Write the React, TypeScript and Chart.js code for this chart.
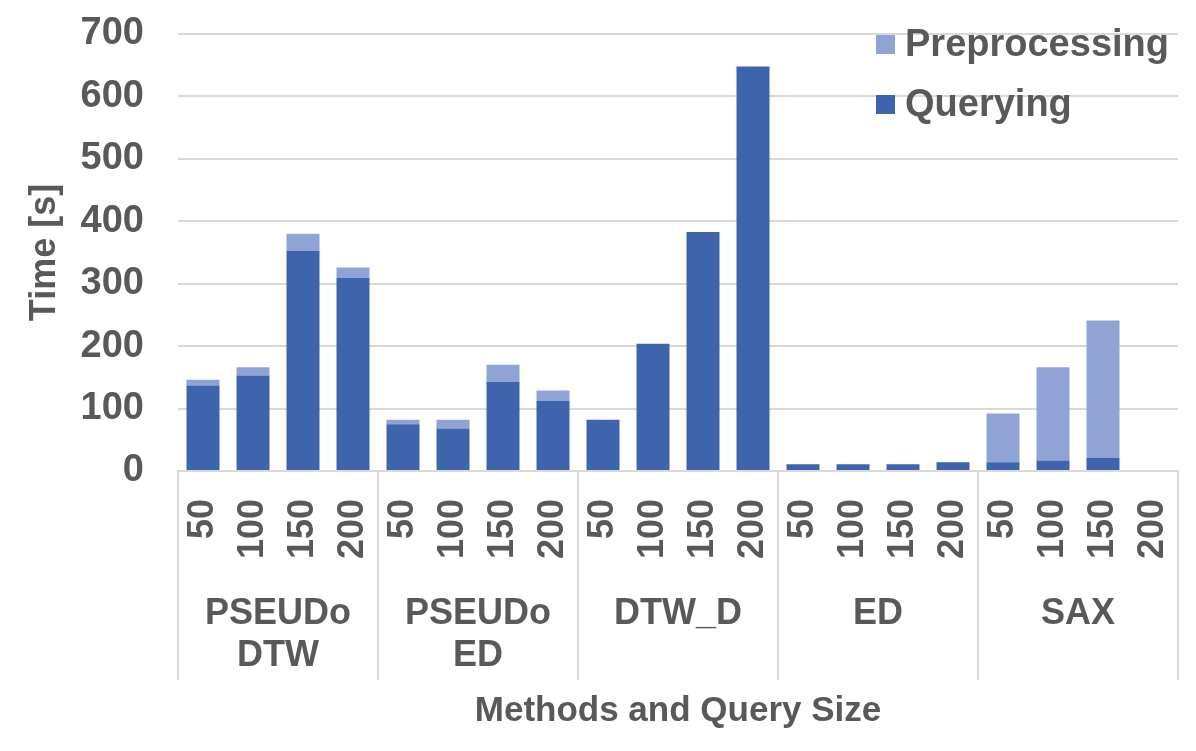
import { useEffect, useRef } from 'react';
import { Chart, registerables } from 'chart.js';

Chart.register(...registerables);

// query sizes repeated for each method group
const sizes = ['50', '100', '150', '200'];
const groups = [['PSEUDo', 'DTW'], ['PSEUDo', 'ED'], ['DTW_D'], ['ED'], ['SAX']];
const labels = groups.flatMap(() => sizes);

const querying = [137, 153, 353, 309, 75, 68, 143, 112, 82, 204, 383, 648, 11, 11, 11, 14, 14, 17, 21, 0];
const preprocessing = [9, 13, 27, 17, 7, 14, 27, 17, 0, 0, 0, 0, 0, 0, 0, 0, 78, 149, 220, 0];

const DARK = '#3d64ad';
const LIGHT = '#8fa4d4';
const TEXT = '#595959';
const GRID = '#d9d9d9';
const FONT = '"Liberation Sans", Arial, sans-serif';

const groupPlugin = {
  id: 'groupLabels',
  afterDraw(chart: any) {
    const { ctx, chartArea, scales } = chart;
    const x = scales.x;
    const base = chartArea.bottom;
    ctx.save();

    // separators between method groups
    ctx.strokeStyle = GRID;
    ctx.lineWidth = 2;
    for (let g = 0; g <= groups.length; g++) {
      const px = Math.round(x.getPixelForValue(g * sizes.length - 0.5));
      ctx.beginPath();
      ctx.moveTo(px, base);
      ctx.lineTo(px, base + 209);
      ctx.stroke();
    }

    // method names
    ctx.fillStyle = TEXT;
    ctx.font = `bold 36px ${FONT}`;
    ctx.textAlign = 'center';
    ctx.textBaseline = 'middle';
    groups.forEach((lines, g) => {
      const cx = x.getPixelForValue(g * sizes.length + (sizes.length - 1) / 2);
      lines.forEach((t, i) => ctx.fillText(t, cx, base + 143 + i * 42));
    });

    // legend (stack order reversed like the original)
    const items = [
      { text: 'Preprocessing', color: LIGHT },
      { text: 'Querying', color: DARK },
    ];
    ctx.font = `bold 38px ${FONT}`;
    ctx.textAlign = 'left';
    items.forEach((it, i) => {
      const cy = chartArea.top + 11 + i * 60;
      ctx.fillStyle = it.color;
      ctx.fillRect(chartArea.right - 302, cy - 10, 19, 19);
      ctx.fillStyle = TEXT;
      ctx.fillText(it.text, chartArea.right - 273, cy + 1);
    });
    ctx.restore();
  },
};

export default function App() {
  const chartRef = useRef<HTMLCanvasElement>(null);
  const chartInstance = useRef<Chart | null>(null);

  useEffect(() => {
    if (!chartRef.current) return;
    if (chartInstance.current) chartInstance.current.destroy();

    chartInstance.current = new Chart(chartRef.current, {
      type: 'bar',
      data: {
        labels,
        datasets: [
          {
            label: 'Querying',
            data: querying,
            backgroundColor: DARK,
            barPercentage: 0.66,
            categoryPercentage: 1,
          },
          {
            label: 'Preprocessing',
            data: preprocessing,
            backgroundColor: LIGHT,
            barPercentage: 0.66,
            categoryPercentage: 1,
          },
        ],
      },
      options: {
        animation: false,
        responsive: true,
        maintainAspectRatio: false,
        layout: { padding: { top: 34, right: 18, left: 0, bottom: 0 } },
        plugins: {
          legend: { display: false },
          tooltip: { enabled: false },
        },
        scales: {
          x: {
            stacked: true,
            grid: { display: false, drawTicks: false },
            border: { display: true, color: GRID, width: 2 },
            ticks: {
              color: TEXT,
              font: { family: FONT, size: 36, weight: 'bold' },
              minRotation: 90,
              maxRotation: 90,
              autoSkip: false,
              padding: 28,
            },
            title: {
              display: true,
              text: 'Methods and Query Size',
              color: TEXT,
              font: { family: FONT, size: 35, weight: 'bold' },
              padding: { top: 0, bottom: 19 },
            },
            afterFit: (scale: any) => {
              scale.height = 280;
              scale.paddingLeft = 0;
              scale.paddingRight = 0;
            },
          },
          y: {
            stacked: true,
            min: 0,
            max: 700,
            ticks: {
              stepSize: 100,
              color: TEXT,
              font: { family: FONT, size: 38, weight: 'bold' },
              padding: 34,
            },
            grid: { color: GRID, lineWidth: 2, drawTicks: false },
            border: { display: false },
            title: {
              display: true,
              text: 'Time [s]',
              color: TEXT,
              font: { family: FONT, size: 36, weight: 'bold' },
              padding: { top: 23, bottom: 0 },
            },
            afterFit: (scale: any) => {
              scale.width = 178;
              scale.paddingTop = 0;
              scale.paddingBottom = 0;
            },
          },
        },
      },
      plugins: [groupPlugin],
    });

    return () => {
      if (chartInstance.current) {
        chartInstance.current.destroy();
        chartInstance.current = null;
      }
    };
  }, []);

  return (
    <div style={{ position: 'fixed', left: 0, top: 0, width: 1196, height: 751, background: '#fff' }}>
      <canvas ref={chartRef} />
    </div>
  );
}
